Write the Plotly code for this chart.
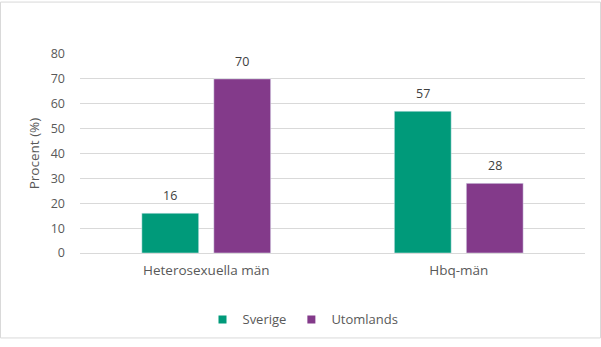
import plotly.graph_objects as go

categories = ["Heterosexuella män", "Hbq-män"]
sverige = [16, 57]
utomlands = [70, 28]
series_names = ["Sverige", "Utomlands"]
colors = ["#009A7A", "#833A8A"]
y_ticks = [0, 10, 20, 30, 40, 50, 60, 70, 80]

W, H = 601, 347
L, R, T, B = 80, 16, 54, 88
pw, ph = W - L - R, H - T - B
BARGAP, GROUPGAP = 0.43, 0.21

def px_x(p):
    return (p - L) / pw

def px_y(p):
    return (H - B - p) / ph

FONT = "Open Sans, sans-serif"
TXT = "#595959"

fig = go.Figure()
series = [sverige, utomlands]
slot = pw / len(categories) * (1 - BARGAP) / len(series)
annotations = []
for i, (name, vals, col) in enumerate(zip(series_names, series, colors)):
    fig.add_trace(go.Bar(x=categories, y=vals, name=name, marker_color=col,
                         showlegend=False))
    shift = (i - (len(series) - 1) / 2) * slot
    for c, v in zip(categories, vals):
        annotations.append(dict(x=c, y=v, xref="x", yref="y", text=str(v),
                                showarrow=False, xshift=shift, yshift=7,
                                yanchor="bottom",
                                font=dict(family=FONT, size=12.5, color="#404040")))
# legend entries with small square symbols
for name, col in zip(series_names, colors):
    fig.add_trace(go.Scatter(x=[None], y=[None], mode="markers", name=name,
                             marker=dict(symbol="square", size=8, color=col)))

fig.update_layout(
    width=W, height=H,
    margin=dict(l=L, r=R, t=T, b=B, pad=0),
    paper_bgcolor="white", plot_bgcolor="white",
    font=dict(family=FONT, size=12, color=TXT),
    barmode="group", bargap=BARGAP, bargroupgap=GROUPGAP,
    showlegend=True,
    legend=dict(orientation="h", x=px_x(303), xanchor="center", y=px_y(312), yanchor="top",
                font=dict(size=13, color=TXT), itemwidth=30,
                traceorder="normal"),
    xaxis=dict(showgrid=False, showline=True, linecolor="#D9D9D9", linewidth=1,
               ticks="", ticklabelstandoff=5, tickfont=dict(size=13.5, color=TXT)),
    yaxis=dict(range=[0, 80], tickvals=y_ticks, showgrid=True, gridcolor="#D9D9D9",
               gridwidth=1, zeroline=False, showline=False, ticks="",
               ticklabelstandoff=14,
               tickfont=dict(size=12.5, color=TXT),
               title=dict(text="Procent (%)", font=dict(size=13.5, color=TXT),
                          standoff=7)),
    annotations=annotations,
    shapes=[dict(type="rect", xref="paper", yref="paper",
                 x0=px_x(0.5), x1=px_x(600.5), y0=px_y(346.5), y1=px_y(0.5),
                 line=dict(color="#D9D9D9", width=1), layer="below")],
)

fig.write_html("out.html")
